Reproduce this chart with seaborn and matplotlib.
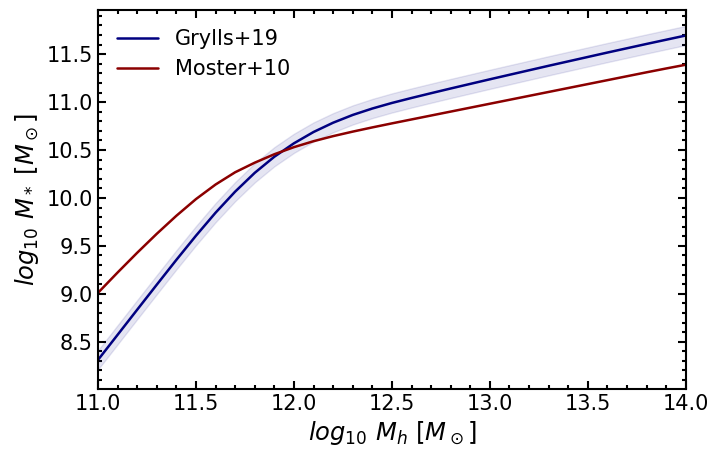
import matplotlib
matplotlib.use("Agg")
import matplotlib.pyplot as plt
import numpy as np
import pandas as pd
import seaborn as sns
from matplotlib.ticker import MultipleLocator

# halo mass grid (log10 Mh)
log_mh = [11.0, 11.1, 11.2, 11.3, 11.4, 11.5, 11.6, 11.7, 11.8, 11.9,
          12.0, 12.1, 12.2, 12.3, 12.4, 12.5, 12.6, 12.7, 12.8, 12.9,
          13.0, 13.1, 13.2, 13.3, 13.4, 13.5, 13.6, 13.7, 13.8, 13.9, 14.0]

grylls19 = [8.310, 8.572, 8.834, 9.095, 9.354, 9.606, 9.846, 10.066, 10.262, 10.430,
            10.570, 10.688, 10.785, 10.866, 10.933, 10.991, 11.043, 11.093, 11.142, 11.190,
            11.238, 11.285, 11.332, 11.379, 11.425, 11.471, 11.517, 11.562, 11.607, 11.651, 11.695]
grylls19_scatter = 0.1

moster10 = [9.010, 9.222, 9.428, 9.626, 9.814, 9.988, 10.140, 10.268, 10.368, 10.456,
            10.530, 10.592, 10.645, 10.692, 10.736, 10.778, 10.819, 10.860, 10.901, 10.942,
            10.983, 11.024, 11.065, 11.106, 11.147, 11.188, 11.229, 11.270, 11.311, 11.351, 11.390]

df = pd.DataFrame({"mh": log_mh, "grylls": grylls19, "moster": moster10})

sns.set_style("ticks")
plt.rcParams["font.family"] = ["DejaVu Sans"]
for k in ["text.color", "axes.labelcolor", "xtick.color", "ytick.color", "axes.edgecolor"]:
    plt.rcParams[k] = "black"

fig = plt.figure(figsize=(7.1, 4.5), dpi=100)
ax = fig.add_axes([0.138, 0.1356, 0.828, 0.842])

g = np.array(grylls19)
ax.fill_between(log_mh, g - grylls19_scatter, g + grylls19_scatter,
                color="navy", alpha=0.1)
sns.lineplot(data=df, x="mh", y="grylls", ax=ax, color="navy", lw=1.8, label="Grylls+19")
sns.lineplot(data=df, x="mh", y="moster", ax=ax, color="darkred", lw=1.8, label="Moster+10")

ax.set_xlim(11, 14)
ax.set_ylim(8.007, 11.96)
ax.xaxis.set_major_locator(MultipleLocator(0.5))
ax.xaxis.set_minor_locator(MultipleLocator(0.1))
ax.yaxis.set_major_locator(MultipleLocator(0.5))
ax.yaxis.set_minor_locator(MultipleLocator(0.1))
ax.tick_params(which="both", direction="in", top=True, right=True, labelsize=15)
ax.tick_params(which="major", length=6, width=1.5)
ax.tick_params(which="minor", length=3, width=1.5)
for s in ax.spines.values():
    s.set_linewidth(1.5)

ax.set_xlabel(r"$log_{10}\ M_h\ [M_\odot]$", fontsize=17.5)
ax.set_ylabel(r"$log_{10}\ M_*\ [M_\odot]$", fontsize=17.5)
ax.legend(loc="upper left", frameon=False, fontsize=15)

fig.savefig("out.png", dpi=100)
